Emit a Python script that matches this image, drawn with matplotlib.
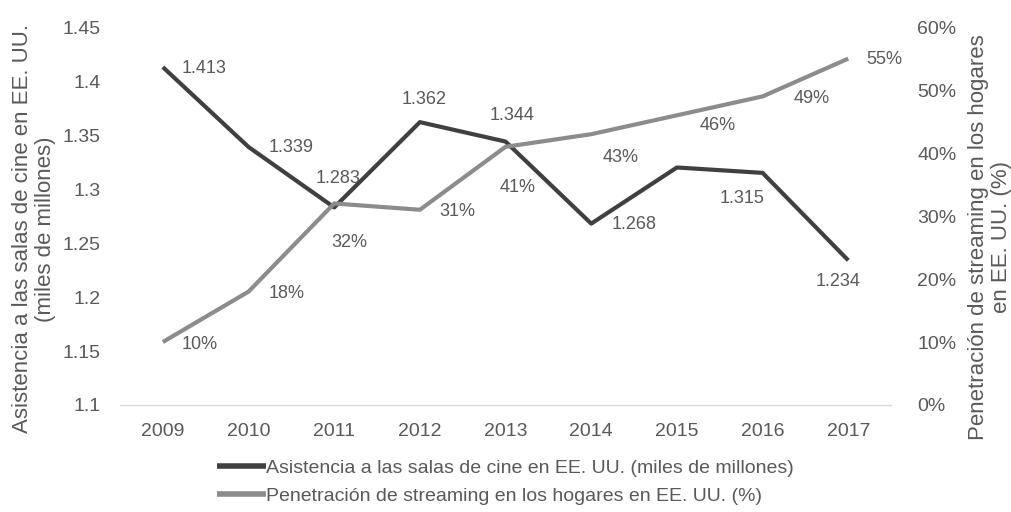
import matplotlib
matplotlib.use("Agg")
import matplotlib.pyplot as plt
from matplotlib.ticker import FuncFormatter

plt.rcParams['font.family'] = ['Liberation Sans', 'DejaVu Sans']

years = ['2009', '2010', '2011', '2012', '2013', '2014', '2015', '2016', '2017']
asistencia = [1.413, 1.339, 1.283, 1.362, 1.344, 1.268, 1.320, 1.315, 1.234]
streaming = [10, 18, 32, 31, 41, 43, 46, 49, 55]

asistencia_labels = ['1.413', '1.339', '1.283', '1.362', '1.344', '1.268', None, '1.315', '1.234']
streaming_labels = ['10%', '18%', '32%', '31%', '41%', '43%', '46%', '49%', '55%']

serie_1 = 'Asistencia a las salas de cine en EE. UU. (miles de millones)'
serie_2 = 'Penetración de streaming en los hogares en EE. UU. (%)'

DARK = '#404040'
LIGHT = '#8c8c8c'
TEXT = '#595959'

fig = plt.figure(figsize=(10.11, 5.12), dpi=100)
ax = fig.add_axes([0.1187, 0.209, 0.7627, 0.738])
ax2 = ax.twinx()

x = list(range(len(years)))
l1, = ax.plot(x, asistencia, color=DARK, lw=3, solid_capstyle='butt', zorder=3)
l2, = ax2.plot(x, streaming, color=LIGHT, lw=3, solid_capstyle='butt', zorder=3)

ax.set_xlim(-0.5, len(years) - 0.5)
ax.set_ylim(1.1, 1.45)
ax.set_yticks([1.1, 1.15, 1.2, 1.25, 1.3, 1.35, 1.4, 1.45])
ax.yaxis.set_major_formatter(FuncFormatter(lambda v, p: f'{v:g}'))
ax2.set_ylim(0, 60)
ax2.set_yticks(range(0, 61, 10))
ax2.yaxis.set_major_formatter(FuncFormatter(lambda v, p: f'{v:.0f}%'))
ax.set_xticks(x)
ax.set_xticklabels(years)

for a in (ax, ax2):
    for s in a.spines.values():
        s.set_visible(False)
    a.tick_params(length=0, labelsize=14, labelcolor=TEXT)
ax.spines['bottom'].set_visible(True)
ax.spines['bottom'].set_color('#d9d9d9')
ax.spines['bottom'].set_linewidth(1)
ax.tick_params(axis='y', pad=14)
ax.tick_params(axis='x', pad=13)
ax2.tick_params(axis='y', pad=19)

ax.set_ylabel('Asistencia a las salas de cine en EE. UU.\n(miles de millones)',
              fontsize=16, color=TEXT, linespacing=1.1)
ax.yaxis.set_label_coords(-0.083, 0.466)
ax2.set_ylabel('Penetración de streaming en los hogares\nen EE. UU. (%)',
               fontsize=16, color=TEXT, linespacing=1.1, rotation=90)
ax2.yaxis.set_label_coords(1.1, 0.444)

# label offsets in pixels (dx, dy, ha)
off1 = [(19, -1, 'left'), (20, -1, 'left'), (4, 29, 'center'), (4, 23, 'center'),
        (7, 26, 'center'), (20, -1, 'left'), None, (-21, -26, 'center'), (-10, -21, 'center')]
off2 = [(19, -2, 'left'), (20, -2, 'left'), (15, -39, 'center'), (19, -2, 'left'),
        (12, -41, 'center'), (29, -23, 'center'), (41, -10, 'center'), (31, -2, 'left'),
        (18, -1, 'left')]

for i, (v, lab, o) in enumerate(zip(asistencia, asistencia_labels, off1)):
    if lab is None:
        continue
    ax.annotate(lab, (i, v), xytext=(o[0], o[1]), textcoords='offset pixels',
                ha=o[2], va='center', fontsize=13, color=TEXT)
for i, (v, lab, o) in enumerate(zip(streaming, streaming_labels, off2)):
    ax2.annotate(lab, (i, v), xytext=(o[0], o[1]), textcoords='offset pixels',
                 ha=o[2], va='center', fontsize=13, color=TEXT)

leg = fig.legend([l1, l2], [serie_1, serie_2], loc='center', bbox_to_anchor=(0.5, 0.058),
                 frameon=False, fontsize=14, handlelength=2.5, handletextpad=0.0,
                 labelspacing=0.55, borderpad=0)
for t in leg.get_texts():
    t.set_color(TEXT)
for h in leg.legend_handles:
    h.set_linewidth(4)

fig.savefig('out.png', dpi=100)
